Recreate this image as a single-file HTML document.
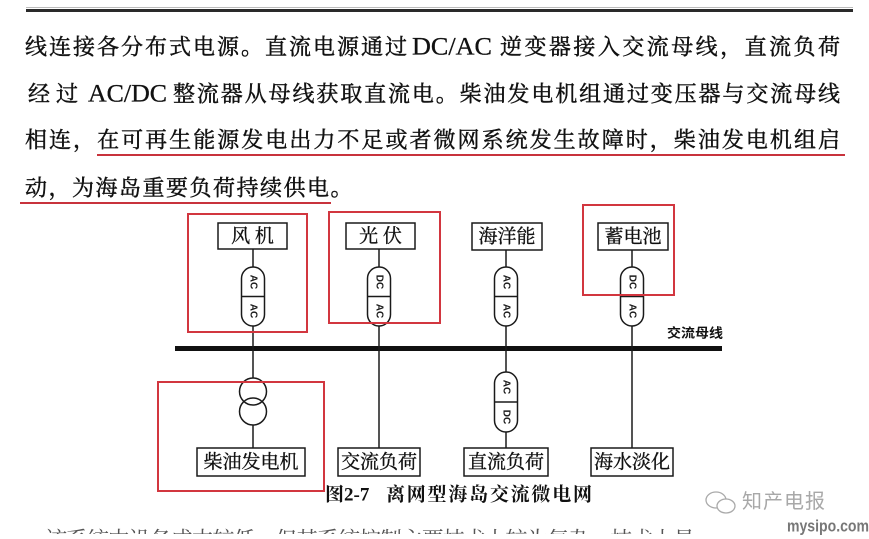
<!DOCTYPE html>
<html>
<head>
<meta charset="utf-8">
<style>
  html,body{margin:0;padding:0;background:#fff;}
  body{width:869px;height:539px;position:relative;overflow:hidden;}
  svg{position:absolute;left:0;top:0;}
  .serif{font-family:"Liberation Serif","Noto Serif CJK SC",serif;}
  .sans{font-family:"Liberation Sans","Noto Sans CJK SC",sans-serif;}
</style>
</head>
<body>
<svg width="869" height="539" viewBox="0 0 869 539" xmlns="http://www.w3.org/2000/svg">
  <!-- top rule -->
  <rect x="26" y="9" width="827" height="3" fill="#2a2a2a"/>
  <rect x="26" y="7" width="827" height="1" fill="#bbb"/>

  <!-- body text -->
  <g class="serif" font-size="22" fill="#111" stroke="#111" stroke-width="0.45" dominant-baseline="central">
    <text x="25" y="47" textLength="382" lengthAdjust="spacing">线连接各分布式电源。直流电源通过</text>
    <text x="412" y="47" font-size="25" stroke-width="0.3" textLength="80" lengthAdjust="spacingAndGlyphs">DC/AC</text>
    <text x="500" y="47" textLength="340" lengthAdjust="spacing">逆变器接入交流母线，直流负荷</text>

    <text x="28" y="94" letter-spacing="6">经过</text>
    <text x="88" y="94" font-size="25" stroke-width="0.3" textLength="79" lengthAdjust="spacingAndGlyphs">AC/DC</text>
    <text x="173" y="94" textLength="667" lengthAdjust="spacing">整流器从母线获取直流电。柴油发电机组通过变压器与交流母线</text>

    <text x="25" y="140" textLength="815" lengthAdjust="spacing">相连，在可再生能源发电出力不足或者微网系统发生故障时，柴油发电机组启</text>
    <text x="25" y="188" letter-spacing="1.5">动，为海岛重要负荷持续供电。</text>
  </g>
  <!-- red underlines -->
  <rect x="97" y="154" width="748" height="2" fill="#c8333c"/>
  <rect x="20" y="202" width="311" height="2" fill="#c8333c"/>

  <!-- bus -->
  <rect x="175" y="346" width="547" height="5" fill="#111"/>
  <text class="sans" x="667" y="333" font-size="13" font-weight="bold" fill="#111" dominant-baseline="central" textLength="56" lengthAdjust="spacingAndGlyphs">交流母线</text>

  <!-- vertical lines -->
  <g stroke="#1a1a1a" stroke-width="1.5" fill="none">
    <line x1="253" y1="249" x2="253" y2="267"/>
    <line x1="253" y1="326" x2="253" y2="378"/>
    <line x1="253" y1="425" x2="253" y2="448"/>
    <line x1="379" y1="249" x2="379" y2="267"/>
    <line x1="379" y1="326" x2="379" y2="448"/>
    <line x1="506" y1="250" x2="506" y2="267"/>
    <line x1="506" y1="326" x2="506" y2="372"/>
    <line x1="506" y1="432" x2="506" y2="448"/>
    <line x1="632" y1="250" x2="632" y2="267"/>
    <line x1="632" y1="326" x2="632" y2="448"/>
    <!-- transformer -->
    <circle cx="253" cy="391.5" r="13.5" fill="#fff"/>
    <circle cx="253" cy="411.5" r="13.5" fill="none"/>
  </g>

  <!-- capsules -->
  <g stroke="#1a1a1a" stroke-width="1.5" fill="#fff">
    <rect x="241.5" y="267" width="23" height="59" rx="11.5"/>
    <line x1="241.5" y1="296.5" x2="264.5" y2="296.5"/>
    <rect x="367.5" y="267" width="23" height="59" rx="11.5"/>
    <line x1="367.5" y1="296.5" x2="390.5" y2="296.5"/>
    <rect x="494.5" y="267" width="23" height="59" rx="11.5"/>
    <line x1="494.5" y1="296.5" x2="517.5" y2="296.5"/>
    <rect x="620.5" y="267" width="23" height="59" rx="11.5"/>
    <line x1="620.5" y1="296.5" x2="643.5" y2="296.5"/>
    <rect x="494.5" y="372" width="23" height="60" rx="11.5"/>
    <line x1="494.5" y1="402" x2="517.5" y2="402"/>
  </g>
  <g class="sans" font-size="10" font-weight="bold" fill="#1a1a1a" text-anchor="middle" dominant-baseline="central">
    <text transform="translate(253,282) rotate(90)">AC</text>
    <text transform="translate(253,311) rotate(90)">AC</text>
    <text transform="translate(379,282) rotate(90)">DC</text>
    <text transform="translate(379,311) rotate(90)">AC</text>
    <text transform="translate(506,282) rotate(90)">AC</text>
    <text transform="translate(506,311) rotate(90)">AC</text>
    <text transform="translate(632,282) rotate(90)">DC</text>
    <text transform="translate(632,311) rotate(90)">AC</text>
    <text transform="translate(506,387) rotate(90)">AC</text>
    <text transform="translate(506,417) rotate(90)">DC</text>
  </g>

  <!-- label boxes -->
  <g stroke="#1a1a1a" stroke-width="1.5" fill="#fff">
    <rect x="218" y="223" width="69" height="26"/>
    <rect x="346" y="223" width="69" height="26"/>
    <rect x="472" y="223" width="70" height="27"/>
    <rect x="598" y="223" width="70" height="27"/>
    <rect x="197" y="448" width="108" height="28"/>
    <rect x="338" y="448" width="82" height="28"/>
    <rect x="464" y="448" width="84" height="28"/>
    <rect x="591" y="448" width="82" height="28"/>
  </g>
  <g class="serif" font-size="19" fill="#111" stroke="#111" stroke-width="0.35" text-anchor="middle" dominant-baseline="central">
    <text x="252.5" y="236.5">风 机</text>
    <text x="380.5" y="236.5">光 伏</text>
    <text x="507" y="237">海洋能</text>
    <text x="633" y="237">蓄电池</text>
    <text x="251" y="462.5">柴油发电机</text>
    <text x="379" y="462.5">交流负荷</text>
    <text x="506" y="462.5">直流负荷</text>
    <text x="632" y="462.5">海水淡化</text>
  </g>

  <!-- red highlight boxes -->
  <g stroke="#d2363f" stroke-width="2" fill="none">
    <rect x="188" y="214" width="119" height="118"/>
    <rect x="329" y="212" width="111" height="111"/>
    <rect x="583" y="205" width="91" height="90"/>
    <rect x="158" y="382" width="166" height="109"/>
  </g>

  <!-- caption -->
  <g class="serif" font-size="19" font-weight="bold" fill="#111" dominant-baseline="central">
    <text x="325" y="495">图2-7</text>
    <text x="386" y="495" textLength="206" lengthAdjust="spacing">离网型海岛交流微电网</text>
  </g>

  <!-- watermark -->
  <g fill="none" stroke="#aaa" stroke-width="1.3">
    <ellipse cx="716" cy="500" rx="10" ry="8"/>
    <ellipse cx="726" cy="506" rx="9" ry="7" fill="#fff"/>
  </g>
  <text class="sans" x="742" y="502" font-size="20" fill="#a8a8a8" dominant-baseline="central" textLength="83" lengthAdjust="spacing">知产电报</text>
  <text class="sans" x="787" y="526" font-size="17" font-weight="bold" fill="#777" dominant-baseline="central" textLength="82" lengthAdjust="spacingAndGlyphs">mysipo.com</text>

  <!-- partially visible next line -->
  <clipPath id="cp"><rect x="0" y="527" width="869" height="7"/></clipPath>
  <g clip-path="url(#cp)">
    <text class="serif" x="45" y="540" font-size="22" fill="#555" dominant-baseline="central" textLength="650" lengthAdjust="spacing">该系统中设备成本较低，但其系统控制主要技术上较为复杂，技术上是</text>
  </g>
</svg>
</body>
</html>
